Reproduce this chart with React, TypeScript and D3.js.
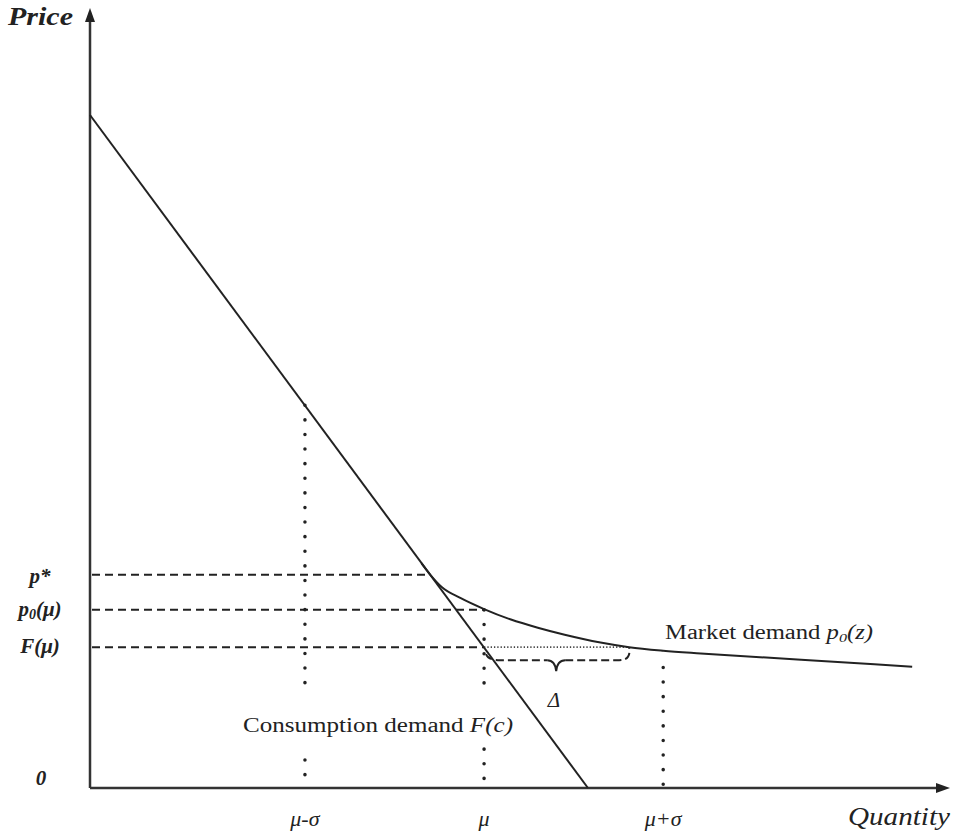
import * as React from "react";
import * as d3 from "d3";

// quantity / price in chart units
const MU = 2.2;
const SIGMA = 1.0;
const X_TICKS = [
  { label: "μ-σ", value: MU - SIGMA },
  { label: "μ", value: MU },
  { label: "μ+σ", value: MU + SIGMA },
];

// consumption demand F(c): straight line
const CONSUMPTION: [number, number][] = [
  [0, 8.65],
  [2.78, 0],
];

// market demand p0(z): leaves F(c) at p*, flattens out on the right
const MARKET: [number, number][] = [
  [1.85, 2.89],
  [1.9, 2.74],
  [1.965, 2.58],
  [2.07, 2.44],
  [2.2, 2.3],
  [2.35, 2.165],
  [2.5, 2.06],
  [2.65, 1.97],
  [2.85, 1.87],
  [3.01, 1.81],
  [3.2, 1.765],
  [3.41, 1.73],
  [3.97, 1.65],
  [4.59, 1.56],
];

const P_STAR = 2.74;
const P0_MU = 2.29;
const F_MU = 1.81;
const P_STAR_Q = 1.9; // where p* touches the curves
const DELTA_END = 3.01; // market demand back at F(mu)

// vertical dotted guides: [x, from, to] pieces (gaps leave room for the label)
const GUIDES: [number, number, number][] = [
  [MU - SIGMA, 4.92, 1.26],
  [MU - SIGMA, 0.36, 0],
  [MU, P0_MU, 1.26],
  [MU, 0.5, 0],
  [MU + SIGMA, 1.55, 0],
];

const W = 956;
const H = 834;

export default function App() {
  const x = d3.scaleLinear().domain([0, 4.79]).range([90, 948]);
  const y = d3.scaleLinear().domain([0, 10]).range([788, 10]);

  const line = d3
    .line<[number, number]>()
    .x((d) => x(d[0]))
    .y((d) => y(d[1]));
  const curve = d3
    .line<[number, number]>()
    .x((d) => x(d[0]))
    .y((d) => y(d[1]))
    .curve(d3.curveMonotoneX);

  const ink = "#222";
  const x0 = x(0);
  const y0 = y(0);

  // curly brace under the Delta gap
  const bx1 = x(MU) + 2;
  const bx2 = x(DELTA_END);
  const by = y(F_MU);
  const bmid = bx1 + (bx2 - bx1) * 0.49;
  const brace = d3.path();
  brace.moveTo(bx1, by + 7);
  brace.quadraticCurveTo(bx1 + 2, by + 13, bx1 + 14, by + 13);
  brace.lineTo(bmid - 9, by + 13);
  brace.moveTo(bmid + 9, by + 13);
  brace.lineTo(bx2 - 10, by + 13);
  brace.quadraticCurveTo(bx2 + 2, by + 13, bx2, by + 1);
  const tip = d3.path();
  tip.moveTo(bmid - 9, by + 13);
  tip.quadraticCurveTo(bmid - 1, by + 13, bmid, by + 24);
  tip.quadraticCurveTo(bmid + 1, by + 13, bmid + 9, by + 13);

  const serif = "'Liberation Serif', 'DejaVu Serif', serif";

  return (
    <svg
      width={W}
      height={H}
      style={{ position: "absolute", left: 0, top: 0, background: "#fff" }}
      fontFamily={serif}
    >
      {/* axes */}
      <line x1={x0} y1={y0} x2={x0} y2={20} stroke="#333" strokeWidth={2.5} />
      <line x1={x0} y1={y0} x2={938} y2={y0} stroke="#333" strokeWidth={2.5} />
      <path d={`M${x0},8 L${x0 - 5},22 L${x0 + 5},22 Z`} fill="#222" />
      <path d={`M950,${y0} L936,${y0 - 5} L936,${y0 + 5} Z`} fill="#222" />

      {/* dashed price levels */}
      {[
        [P_STAR, P_STAR_Q],
        [P0_MU, MU],
        [F_MU, MU],
      ].map(([p, q], i) => (
        <line
          key={i}
          x1={x0 + 2}
          x2={x(q)}
          y1={y(p)}
          y2={y(p)}
          stroke={ink}
          strokeWidth={2}
          strokeDasharray="8 5"
        />
      ))}

      {/* fine dotted gap at F(mu) */}
      <line
        x1={x(MU)}
        x2={bx2}
        y1={by}
        y2={by}
        stroke="#444"
        strokeWidth={1.8}
        strokeDasharray="1.3 2"
      />
      <path d={brace.toString()} fill="none" stroke={ink} strokeWidth={2} strokeDasharray="8 4" />
      <path d={tip.toString()} fill="none" stroke={ink} strokeWidth={2} />

      {/* vertical dotted guides */}
      {GUIDES.map(([q, a, b], i) => (
        <line
          key={i}
          x1={x(q)}
          x2={x(q)}
          y1={y(a)}
          y2={y(b)}
          stroke={ink}
          strokeWidth={3.5}
          strokeLinecap="round"
          strokeDasharray="0.1 14.5"
        />
      ))}

      {/* demand curves */}
      <path d={line(CONSUMPTION)!} fill="none" stroke={ink} strokeWidth={2} />
      <path d={curve(MARKET)!} fill="none" stroke={ink} strokeWidth={2} />

      {/* axis titles */}
      <text x={8} y={25} fontSize={26} fontWeight="bold" fontStyle="italic" fill={ink} textLength={65} lengthAdjust="spacingAndGlyphs">
        Price
      </text>
      <text x={950} y={825} fontSize={26} fontStyle="italic" fill={ink} textAnchor="end" textLength={102} lengthAdjust="spacingAndGlyphs">
        Quantity
      </text>

      {/* price labels */}
      <g fontWeight="bold" fontStyle="italic" fontSize={21} fill={ink} textAnchor="middle">
        <text x={40} y={y(P_STAR) + 8}>p*</text>
        <text x={40} y={y(P0_MU) + 6}>
          p<tspan fontSize={14} dy={3}>0</tspan>
          <tspan dy={-3}>(μ)</tspan>
        </text>
        <text x={40} y={y(F_MU) + 6}>F(μ)</text>
        <text x={41} y={y0 - 3}>0</text>
      </g>

      {/* quantity labels */}
      <g fontStyle="italic" fontSize={22} fill={ink} textAnchor="middle">
        {X_TICKS.map((t) => (
          <text key={t.label} x={x(t.value)} y={826}>
            {t.label}
          </text>
        ))}
      </g>

      {/* curve labels */}
      <text x={243} y={732} fontSize={20} fill={ink} textLength={270} lengthAdjust="spacingAndGlyphs">
        Consumption demand <tspan fontStyle="italic">F(c)</tspan>
      </text>
      <text x={665} y={639} fontSize={20} fill={ink} textLength={208} lengthAdjust="spacingAndGlyphs">
        Market demand <tspan fontStyle="italic">p</tspan>
        <tspan fontStyle="italic" fontSize={13} dy={3}>0</tspan>
        <tspan fontStyle="italic" dy={-3}>(z)</tspan>
      </text>
      <text x={554} y={707} fontSize={21} fontStyle="italic" fill={ink} textAnchor="middle">
        Δ
      </text>
    </svg>
  );
}
